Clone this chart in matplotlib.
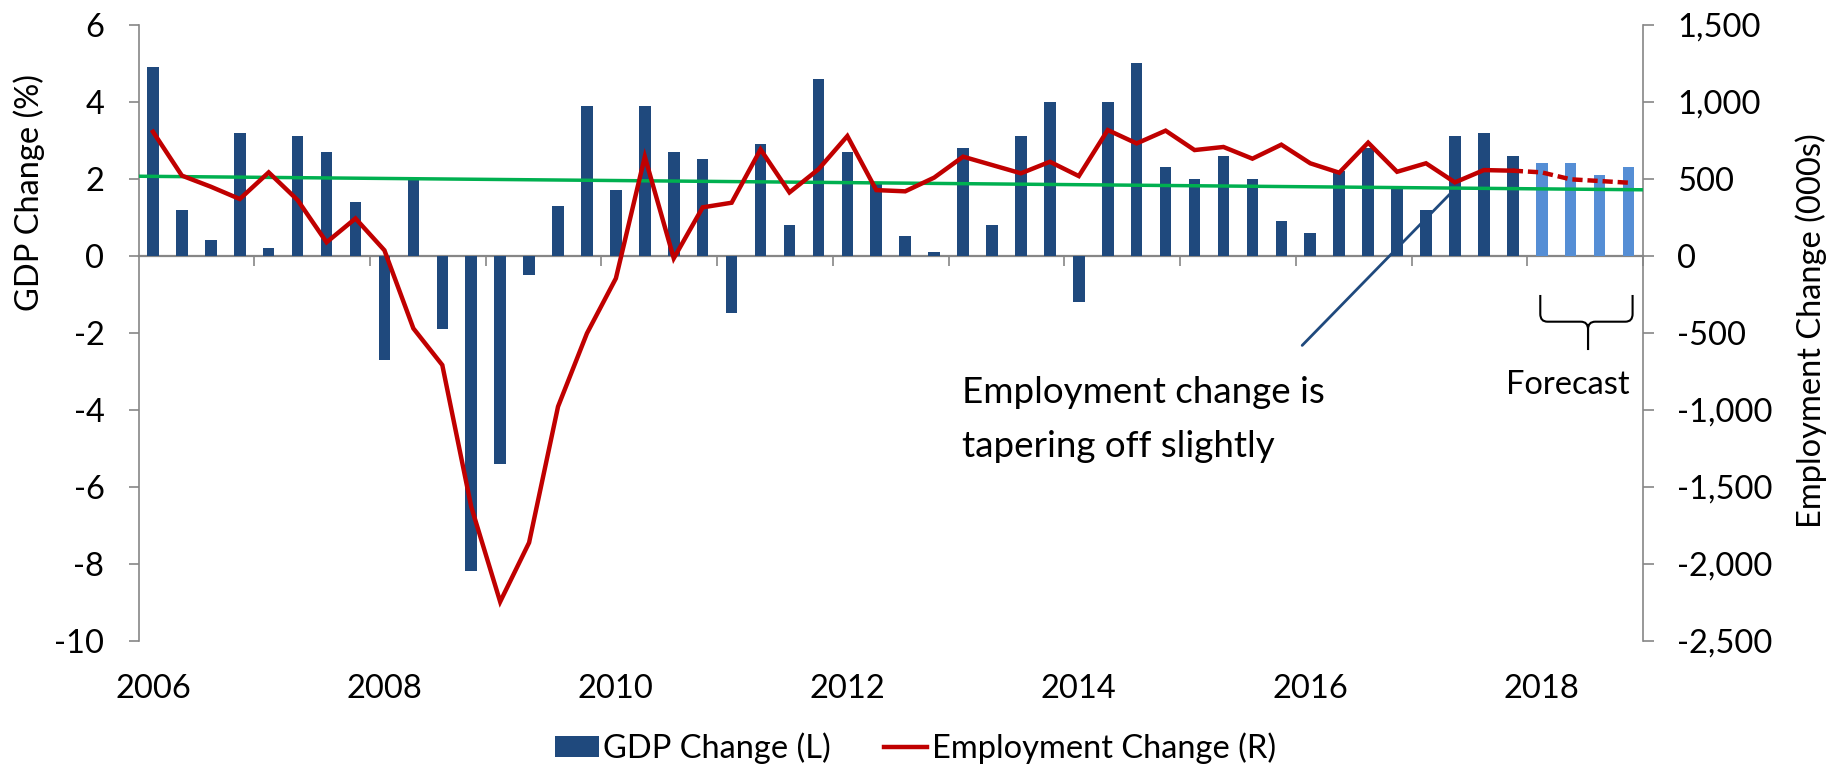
import numpy as np
import matplotlib
matplotlib.use("Agg")
import matplotlib.pyplot as plt
from matplotlib.lines import Line2D
from matplotlib.patches import Patch, PathPatch
from matplotlib.path import Path
from matplotlib.ticker import FuncFormatter

plt.rcParams['font.family'] = ['Lato', 'DejaVu Sans']
plt.rcParams['axes.unicode_minus'] = False

# ---------------- data ----------------
quarters = [f"{y}Q{q}" for y in range(2006, 2019) for q in range(1, 5)]
gdp_change = [4.9, 1.2, 0.4, 3.2,
              0.2, 3.1, 2.7, 1.4,
              -2.7, 2.0, -1.9, -8.2,
              -5.4, -0.5, 1.3, 3.9,
              1.7, 3.9, 2.7, 2.5,
              -1.5, 2.9, 0.8, 4.6,
              2.7, 1.9, 0.5, 0.1,
              2.8, 0.8, 3.1, 4.0,
              -1.2, 4.0, 5.0, 2.3,
              2.0, 2.6, 2.0, 0.9,
              0.6, 2.2, 2.8, 1.8,
              1.2, 3.1, 3.2, 2.6,
              2.4, 2.4, 2.1, 2.3]
employment_change = [805, 520, 448, 368,
                     541, 361, 87, 242,
                     35, -472, -710, -1630,
                     -2247, -1863, -980, -504,
                     -147, 643, -17, 314,
                     344, 690, 411, 561,
                     777, 426, 418, 507,
                     643, 589, 535, 610,
                     517, 816, 729, 812,
                     686, 706, 630, 721,
                     600, 539, 734, 545,
                     600, 476, 556, 552,
                     541, 496, 485, 474]
n_forecast = 4
employment_trend_ends = [516, 428]
year_labels = ['2006', '2008', '2010', '2012', '2014', '2016', '2018']
left_ticks = [-10, -8, -6, -4, -2, 0, 2, 4, 6]
right_ticks = [-2500, -2000, -1500, -1000, -500, 0, 500, 1000, 1500]

# ---------------- style ----------------
DARK = '#1F497D'
LIGHT = '#558ED5'
RED = '#C00000'
GREEN = '#00B050'
GRAY = '#868686'
FS = 23.5

W, H = 1845, 767
fig = plt.figure(figsize=(W / 100, H / 100), dpi=100)
ax = fig.add_axes([138.5 / W, 1 - 640.7 / H, (1643 - 138.5) / W, (640.7 - 24.7) / H])

n = len(quarters)
x = np.arange(n)
na = n - n_forecast
ax.bar(x[:na], gdp_change[:na], width=0.40, color=DARK, zorder=2)
ax.bar(x[na:], gdp_change[na:], width=0.40, color=LIGHT, zorder=2)

ax.set_xlim(-0.5, n - 0.5)
ax.set_ylim(left_ticks[0], left_ticks[-1])
ax.set_yticks(left_ticks)

for s in ['top', 'right']:
    ax.spines[s].set_visible(False)
ax.spines['left'].set_color(GRAY)
ax.spines['left'].set_linewidth(1.2)
ax.spines['bottom'].set_position(('data', 0))
ax.spines['bottom'].set_color(GRAY)
ax.spines['bottom'].set_linewidth(1.6)
ax.spines['bottom'].set_zorder(1)
ax.set_xticks(np.arange(3.5, n, 4))
ax.tick_params(axis='x', direction='out', length=7.5, width=1.2, color=GRAY,
               labelbottom=False)
ax.tick_params(axis='y', direction='out', length=7.5, width=1.2, color=GRAY,
               pad=17, labelsize=FS)

sec = ax.secondary_xaxis('bottom')
sec.set_xticks(np.arange(0, n, 8), labels=year_labels)
sec.tick_params(length=0, pad=24, labelsize=FS)
sec.spines['bottom'].set_visible(False)

ax.set_ylabel('GDP Change (%)', fontsize=FS)
ax.yaxis.label.set_verticalalignment('center')
ax.yaxis.set_label_coords(-0.0728, 0.727)

# right axis
ax2 = ax.twinx()
ax2.set_ylim(right_ticks[0], right_ticks[-1])
ax2.set_yticks(right_ticks)
ax2.yaxis.set_major_formatter(FuncFormatter(lambda v, p: f"{v:,.0f}"))
for s in ['top', 'bottom', 'left']:
    ax2.spines[s].set_visible(False)
ax2.spines['right'].set_color(GRAY)
ax2.spines['right'].set_linewidth(1.2)
ax2.tick_params(axis='y', direction='out', length=8, width=1.2, color=GRAY,
                pad=16.5, labelsize=FS)
ax2.set_ylabel('Employment Change (000s)', fontsize=FS)
ax2.yaxis.label.set_verticalalignment('center')
ax2.yaxis.set_label_coords(1.1115, 0.503)

ax2.plot([-0.5, n - 0.5], employment_trend_ends, color=GREEN, lw=2.5,
         solid_capstyle='butt', zorder=3)
ax2.plot(x[:na], employment_change[:na], color=RED, lw=3.2,
         solid_joinstyle='miter', zorder=4)
ax2.plot(x[na - 1:], employment_change[na - 1:], color=RED, lw=3.2,
         linestyle=(0, (2.3, 1.1)), dash_capstyle='butt', zorder=4)

# annotation
ax.annotate('', xy=(44.85, 1.62), xytext=(39.72, -2.33),
            arrowprops=dict(arrowstyle='-', color=DARK, lw=2.0,
                            shrinkA=0, shrinkB=0), zorder=3)
ax.text(27.97, -3.566, 'Employment change is', fontsize=26.5,
        ha='left', va='center')
ax.text(27.97, -4.966, 'tapering off slightly', fontsize=26.5,
        ha='left', va='center')

# forecast brace
xl, xr, xc = 47.95, 51.14, 49.6
yt, yh, ytip = -1.02, -1.714, -2.45
rx, ry = 0.25, 0.2
verts, codes = [], []
for xe, sgn in [(xl, 1), (xr, -1)]:
    verts += [(xe, yt), (xe, yh + ry), (xe, yh), (xe + sgn * rx, yh),
              (xc - sgn * rx, yh), (xc, yh), (xc, yh - ry), (xc, ytip)]
    codes += [Path.MOVETO, Path.LINETO, Path.CURVE3, Path.CURVE3,
              Path.LINETO, Path.CURVE3, Path.CURVE3, Path.LINETO]
ax.add_patch(PathPatch(Path(verts, codes), fill=False, edgecolor='black',
                       lw=1.5, clip_on=False, zorder=3))
ax.text(48.89, -3.36, 'Forecast', fontsize=FS, ha='center', va='center')

# legend
handles = [Patch(facecolor=DARK, edgecolor='none'),
           Line2D([], [], color=RED, lw=3.2)]
fig.legend(handles, ['GDP Change (L)', 'Employment Change (R)'],
           loc='center', bbox_to_anchor=(916 / W, 1 - 748 / H), ncol=2,
           frameon=False, fontsize=FS, handlelength=1.32, handleheight=0.6,
           handletextpad=0.15, columnspacing=1.63)

fig.savefig('out.png', dpi=100)
